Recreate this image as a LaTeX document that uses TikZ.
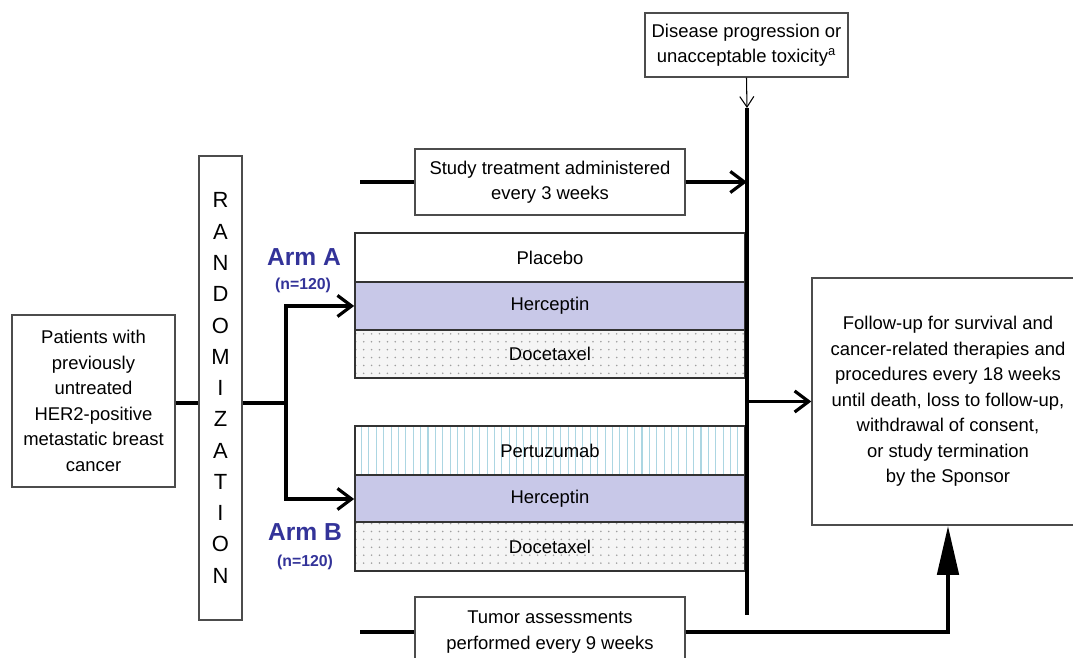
\documentclass[tikz,border=0pt]{standalone}
\usepackage{fontspec}
\setmainfont{Liberation Sans}
\usetikzlibrary{arrows.meta,patterns.meta}
\definecolor{lavender}{RGB}{200,200,232}
\definecolor{armblue}{RGB}{51,51,153}
\definecolor{stripe}{RGB}{172,214,226}

\begin{document}
\begin{tikzpicture}[>={Straight Barb[length=8pt,width=12pt]},x=0.02cm,y=-0.02cm,
   box/.style={draw=black!70,line width=0.8pt,fill=white,align=center,inner sep=2pt,font=\fontsize{10.5}{14.5}\selectfont},
   band/.style={draw=black!80,line width=1pt,minimum width=7.8cm,minimum height=0.97cm,inner sep=0pt,font=\fontsize{10.5}{12}\selectfont},
   dotted band/.style={band,preaction={fill=gray!8},pattern={Dots[distance=4.5pt,radius=0.5pt]},pattern color=gray!75},
   striped band/.style={band,preaction={fill=white},pattern={Lines[angle=90,distance=4.2pt,line width=0.6pt]},pattern color=stripe},
   arm/.style={text=armblue,font=\bfseries\fontsize{14}{16}\selectfont},
   count/.style={text=armblue,font=\bfseries\fontsize{9}{10}\selectfont},
   heavy/.style={line width=1.8pt}]
   \useasboundingbox (0,0) rectangle (1073,658);

   % boxes
   \node[box,minimum width=4.06cm,minimum height=1.28cm] (prog) at (746.5,45) {Disease progression or\\unacceptable toxicity\textsuperscript{a}};
   \node[box,minimum width=5.4cm,minimum height=1.32cm] (study) at (550,182) {Study treatment administered\\every 3 weeks};
   \node[box,minimum width=0.86cm,minimum height=9.28cm,font=\fontsize{12.5}{17.8}\selectfont] (rand) at (220.5,388) {R\\A\\N\\D\\O\\M\\I\\Z\\A\\T\\I\\O\\N};
   \node[box,minimum width=3.26cm,minimum height=3.44cm] (pat) at (93.5,401) {Patients with\\previously\\untreated\\HER2-positive\\metastatic breast\\cancer};
   \node[box,minimum width=5.44cm,minimum height=4.94cm] (fup) at (948,401.5) {Follow-up for survival and\\cancer-related therapies and\\procedures every 18 weeks\\until death, loss to follow-up,\\withdrawal of consent,\\or study termination\\by the Sponsor};
   \node[box,minimum width=5.4cm,minimum height=1.4cm] (tum) at (550,632) {Tumor assessments\\performed every 9 weeks};

   % arm A
   \node[band,fill=white] (plaA) at (550,257.5) {Placebo};
   \node[band,fill=lavender] (herA) at (550,306) {Herceptin};
   \node[dotted band] (docA) at (550,354) {Docetaxel};
   \node[arm] (armA) at (304,257) {Arm A};
   \node[count] (nA) at (303,285) {(n=120)};

   % arm B
   \node[striped band] (perB) at (550,450.5) {Pertuzumab};
   \node[band,fill=lavender] (herB) at (550,499) {Herceptin};
   \node[dotted band] (docB) at (550,546.5) {Docetaxel};
   \node[arm] (armB) at (305,532) {Arm B};
   \node[count] (nB) at (305,562) {(n=120)};

   \coordinate (vtop) at (747,108);
   \coordinate (vbot) at (747,615);
   \coordinate (branch) at (286,403);
   \coordinate (studyin) at (360,182);
   \coordinate (tumin) at (360,632);

   % connectors
   \draw[->,line width=0.6pt,>={Straight Barb[length=6pt,width=8pt]}] (prog.south) -- (vtop);
   \draw[heavy] (vtop) -- (vbot);
   \draw[heavy] (studyin) -- (study.west);
   \draw[heavy,->] (study.east) -- (study.east -| vtop);
   \draw[heavy] (pat.east |- branch) -- (rand.west |- branch);
   \draw[heavy] (rand.east |- branch) -- (branch);
   \draw[heavy,->] (branch) |- (herA.west);
   \draw[heavy,->] (branch) |- (herB.west);
   \draw[heavy,->] (fup.west -| vtop) -- (fup.west);
   \draw[heavy] (tumin) -- (tum.west);
   \draw[line width=2.6pt,-{Triangle[length=28pt,width=12pt]}] (tum.east) -| (fup.south);
\end{tikzpicture}
\end{document}
